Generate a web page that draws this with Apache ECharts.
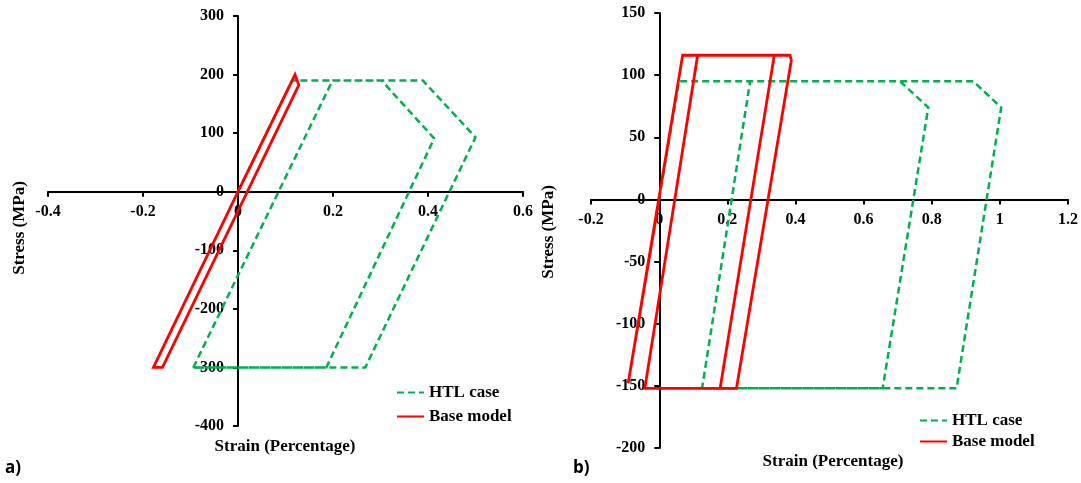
<!DOCTYPE html>
<html>
<head>
<meta charset="utf-8">
<script src="https://cdn.jsdelivr.net/npm/echarts@6/dist/echarts.min.js"></script>
<style>
  html, body { margin: 0; padding: 0; background: #fff; }
  #chart { width: 1081px; height: 483px; }
</style>
</head>
<body>
<div id="chart"></div>
<script>
// Panel a) — stress–strain loops
const strainHtlA  = [0, 0.114, 0.389, 0.500, 0.268, -0.094, 0.199, 0.302, 0.413, 0.186, -0.094];
const stressHtlA  = [0, 190, 190, 93, -300, -300, 190, 190, 91, -300, -300];
const strainBaseA = [0, 0.120, 0.128, -0.159, -0.178, 0];
const stressBaseA = [0, 200, 182, -300, -300, 0];

// Panel b) — stress–strain loops
const strainHtlB  = [0, 0.058, 0.922, 1.004, 0.873, 0.126, 0.267, 0.707, 0.790, 0.656, 0.126];
const stressHtlB  = [0, 95, 95, 74, -152, -152, 95, 95, 74, -152, -152];
const strainBaseB = [0, -0.091, 0.069, 0.384, 0.388, 0.227, -0.042, 0.113, 0.338, 0.179];
const stressBaseB = [0, -148, 116, 116, 112, -152, -152, 116, 116, -152];

const seriesNames = ['HTL case', 'Base model'];
const xTicksA = { min: -0.4, max: 0.6, interval: 0.2 };
const yTicksA = { min: -400, max: 300, interval: 100 };
const xTicksB = { min: -0.2, max: 1.2, interval: 0.2 };
const yTicksB = { min: -200, max: 150, interval: 50 };

function pairs(xs, ys) { return xs.map((x, i) => [x, ys[i]]); }

const SERIF = '"Liberation Serif", "DejaVu Serif", serif';
const GREEN = '#00B050';
const RED = '#FF0000';

const gridA = { left: 48, top: 16, width: 475, height: 410 };
const gridB = { left: 591, top: 13, width: 478, height: 435 };

// Distance (px) from a grid's bottom / left edge to the zero line of the other axis,
// so the axes cross at the origin with their labels attached.
function xOffset(grid, yt) {
  return -grid.height * (0 - yt.min) / (yt.max - yt.min);
}
function yOffset(grid, xt) {
  return -grid.width * (0 - xt.min) / (xt.max - xt.min);
}

function valueAxis(gridIndex, ticks, isX, margin, offset) {
  return {
    type: 'value', gridIndex,
    position: isX ? 'bottom' : 'left',
    offset,
    min: ticks.min, max: ticks.max, interval: ticks.interval,
    splitLine: { show: false },
    axisLine: { show: true, onZero: false, lineStyle: { color: '#000', width: 2 } },
    axisTick: { show: true, length: 5, lineStyle: { color: '#000', width: 2 } },
    axisLabel: {
      show: true, margin,
      fontFamily: SERIF, fontWeight: 'bold', fontSize: 16, color: '#000',
      showMinLabel: true, showMaxLabel: true, hideOverlap: false
    }
  };
}

function htl(xi, data) {
  return {
    name: seriesNames[0], type: 'line', xAxisIndex: xi, yAxisIndex: xi,
    data, symbol: 'none', silent: true, z: 2,
    lineStyle: { color: GREEN, width: 2.5, type: [7, 4] },
    itemStyle: { color: GREEN }
  };
}
function base(xi, data) {
  return {
    name: seriesNames[1], type: 'line', xAxisIndex: xi, yAxisIndex: xi,
    data, symbol: 'none', silent: true, z: 3,
    lineStyle: { color: RED, width: 2.8, join: 'miter' },
    itemStyle: { color: RED }
  };
}

function legendAt(left, top, gap) {
  return {
    orient: 'vertical', left, top,
    data: seriesNames,
    itemWidth: 27, itemHeight: 12, itemGap: gap,
    selectedMode: false,
    itemStyle: { opacity: 0 },
    textStyle: { fontFamily: SERIF, fontWeight: 'bold', fontSize: 17, color: '#000' }
  };
}

function titleText(x, y, text, rotate) {
  return {
    type: 'text', x, y, rotation: rotate ? Math.PI / 2 : 0,
    style: {
      text, fontFamily: SERIF, fontWeight: 'bold', fontSize: 17, fill: '#000',
      align: 'center', verticalAlign: 'middle'
    }
  };
}

function panelLabel(x, y, text) {
  return {
    type: 'text', x, y,
    style: {
      text, fontFamily: '"Open Sans", "Liberation Sans", sans-serif', fontWeight: 'bold',
      fontSize: 17, fill: '#000', align: 'left', verticalAlign: 'middle'
    }
  };
}

const chart = echarts.init(document.getElementById('chart'), null, { renderer: 'canvas' });
chart.setOption({
  animation: false,
  backgroundColor: '#fff',
  grid: [gridA, gridB],
  xAxis: [
    valueAxis(0, xTicksA, true, 12, xOffset(gridA, yTicksA)),
    valueAxis(1, xTicksB, true, 12, xOffset(gridB, yTicksB))
  ],
  yAxis: [
    valueAxis(0, yTicksA, false, 14, yOffset(gridA, xTicksA)),
    valueAxis(1, yTicksB, false, 14, yOffset(gridB, xTicksB))
  ],
  legend: [
    legendAt(391, 379, 7),
    legendAt(914, 407, 4)
  ],
  series: [
    htl(0, pairs(strainHtlA, stressHtlA)),
    base(0, pairs(strainBaseA, stressBaseA)),
    htl(1, pairs(strainHtlB, stressHtlB)),
    base(1, pairs(strainBaseB, stressBaseB))
  ],
  graphic: [
    titleText(285, 447, 'Strain (Percentage)', false),
    titleText(833, 462, 'Strain (Percentage)', false),
    titleText(20, 228, 'Stress (MPa)', true),
    titleText(549, 232, 'Stress (MPa)', true),
    panelLabel(5, 468, 'a)'),
    panelLabel(573, 468, 'b)')
  ]
});
</script>
</body>
</html>
